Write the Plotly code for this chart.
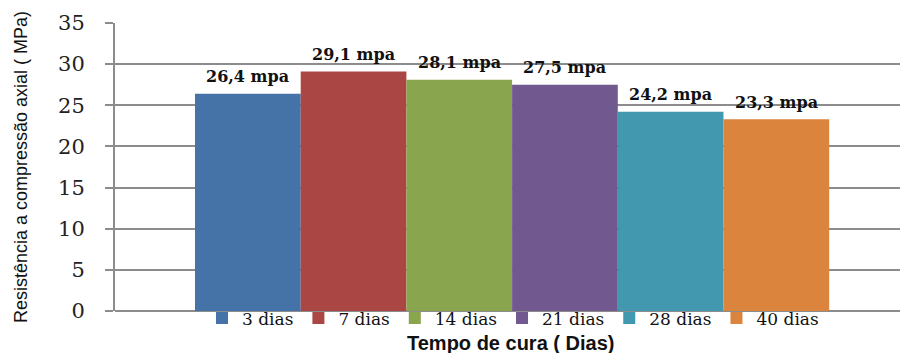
import plotly.graph_objects as go

# Curing times and axial compressive strength (MPa)
categorias = ["3 dias", "7 dias", "14 dias", "21 dias", "28 dias", "40 dias"]
resistencia = [26.4, 29.1, 28.1, 27.5, 24.2, 23.3]
cores = ["#4572A7", "#AA4643", "#89A54E", "#71588F", "#4198AF", "#DB843D"]
y_ticks = [0, 5, 10, 15, 20, 25, 30, 35]

SERIF = "DejaVu Serif"
SANS = "Liberation Sans, Arial, sans-serif"

fig = go.Figure()
for i, (nome, valor, cor) in enumerate(zip(categorias, resistencia, cores)):
    fig.add_trace(go.Bar(
        x=[i], y=[valor], width=1.0, name=nome,
        marker=dict(color=cor, line=dict(width=0)),
    ))
    fig.add_annotation(
        x=i, y=valor, xref="x", yref="y",
        text=f"{valor:.1f}".replace(".", ",") + " mpa",
        showarrow=False, yshift=17,
        font=dict(family=SERIF, size=16, color="#111111", weight="bold"),
    )

fig.add_annotation(
    x=0.504, y=-0.111, xref="paper", yref="paper",
    text="<b>Tempo de cura ( Dias)</b>", showarrow=False,
    xanchor="center", yanchor="middle",
    font=dict(family=SANS, size=20, color="#111111"),
)

fig.update_layout(
    width=900, height=353,
    margin=dict(l=115, r=0, t=23, b=42),
    paper_bgcolor="white", plot_bgcolor="white",
    showlegend=True,
    legend=dict(
        orientation="h", x=0.507, xanchor="center", y=0.037, yanchor="top",
        font=dict(family=SERIF, size=17, color="#111111"),
        itemwidth=30, bgcolor="rgba(0,0,0,0)", tracegroupgap=0,
    ),
    xaxis=dict(
        range=[-1.257, 6.17], showticklabels=False, showgrid=False,
        zeroline=False, ticks="",
    ),
    yaxis=dict(
        range=[0, 35], tickvals=y_ticks, showgrid=True,
        gridcolor="#8c8c8c", gridwidth=1.5,
        showline=True, linecolor="#8c8c8c", linewidth=2,
        ticks="outside", ticklen=8, tickcolor="#8c8c8c", tickwidth=1.5,
        ticklabelstandoff=16,
        tickfont=dict(family=SERIF, size=21, color="#222222"),
        zeroline=True, zerolinecolor="#8c8c8c", zerolinewidth=1.5,
        title=dict(
            text="Resistência a compressão axial ( MPa)", standoff=26,
            font=dict(family=SANS, size=18, color="#111111"),
        ),
    ),
)

fig.write_html("out.html")
